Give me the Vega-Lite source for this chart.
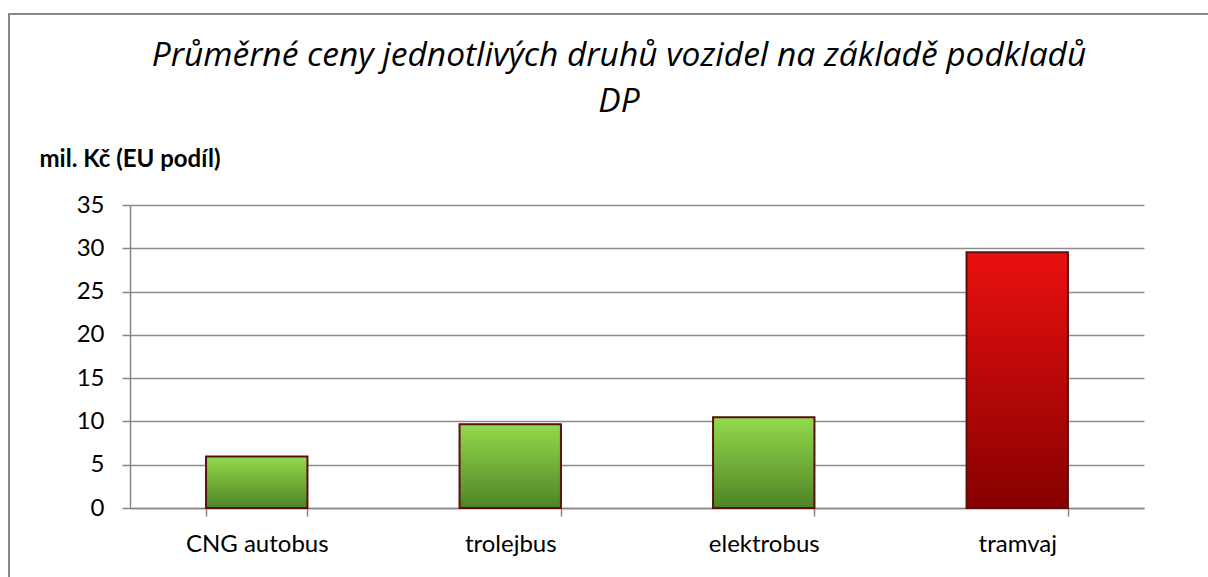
{
  "$schema": "https://vega.github.io/schema/vega-lite/v6.json",
  "usermeta": {"embedOptions": {"actions": false}},
  "width": 1300,
  "height": 600,
  "autosize": {"type": "none"},
  "padding": {"left": 9, "top": 14, "right": -101, "bottom": -37},
  "background": "white",
  "config": {"view": {"stroke": "#878787", "strokeWidth": 2}, "font": "Lato"},
  "title": {
    "text": ["Průměrné ceny jednotlivých druhů vozidel na základě podkladů", "DP"],
    "orient": "top",
    "anchor": "start",
    "frame": "group",
    "offset": 0,
    "dx": 610,
    "dy": 131,
    "align": "center",
    "baseline": "alphabetic",
    "font": "Open Sans",
    "fontStyle": "italic",
    "fontWeight": "normal",
    "fontSize": 33.5,
    "lineHeight": 46,
    "color": "#000000"
  },
  "data": {
    "values": [
      {"druh": "CNG autobus", "cena": 5.94},
      {"druh": "trolejbus", "cena": 9.66},
      {"druh": "elektrobus", "cena": 10.47},
      {"druh": "tramvaj", "cena": 29.55}
    ]
  },
  "mark": {"type": "bar", "stroke": "#5a1010", "strokeWidth": 2},
  "encoding": {
    "x": {
      "field": "druh",
      "type": "nominal",
      "sort": null,
      "scale": {"range": [121, 1135], "paddingInner": 0.6, "paddingOuter": 0.3},
      "axis": {
        "orient": "bottom",
        "offset": -106,
        "title": null,
        "tickBand": "extent",
        "tickSize": 8,
        "tickColor": "#878787",
        "tickWidth": 1.5,
        "domainColor": "#878787",
        "domainWidth": 1.5,
        "labelFont": "Lato",
        "labelFontSize": 24,
        "labelColor": "#000000",
        "labelBaseline": "alphabetic",
        "labelPadding": 35,
        "labelAngle": 0,
        "grid": false
      }
    },
    "y": {
      "field": "cena",
      "type": "quantitative",
      "scale": {"domain": [0, 35], "range": [494, 191], "nice": false, "zero": true},
      "axis": {
        "orient": "left",
        "offset": -121,
        "values": [0, 5, 10, 15, 20, 25, 30, 35],
        "title": "mil. Kč (EU podíl)",
        "titleAngle": 0,
        "titleAlign": "left",
        "titleBaseline": "alphabetic",
        "titleX": -91,
        "titleY": 152,
        "titleFont": "Lato",
        "titleFontSize": 24,
        "titleFontWeight": "bold",
        "titleColor": "#000000",
        "grid": true,
        "gridColor": "#8c8c8c",
        "gridWidth": 1.5,
        "domainColor": "#878787",
        "domainWidth": 1.5,
        "tickSize": 8,
        "tickColor": "#878787",
        "tickWidth": 1.5,
        "labelFont": "Lato",
        "labelFontSize": 24,
        "labelPadding": 18,
        "labelColor": "#000000"
      }
    },
    "fill": {
      "condition": {
        "test": "datum.druh === 'tramvaj'",
        "value": {
          "gradient": "linear", "x1": 0, "y1": 0, "x2": 0, "y2": 1,
          "stops": [{"offset": 0, "color": "#ea1010"}, {"offset": 1, "color": "#870000"}]
        }
      },
      "value": {
        "gradient": "linear", "x1": 0, "y1": 0, "x2": 0, "y2": 1,
        "stops": [{"offset": 0, "color": "#93da4b"}, {"offset": 1, "color": "#4e8427"}]
      }
    }
  }
}
